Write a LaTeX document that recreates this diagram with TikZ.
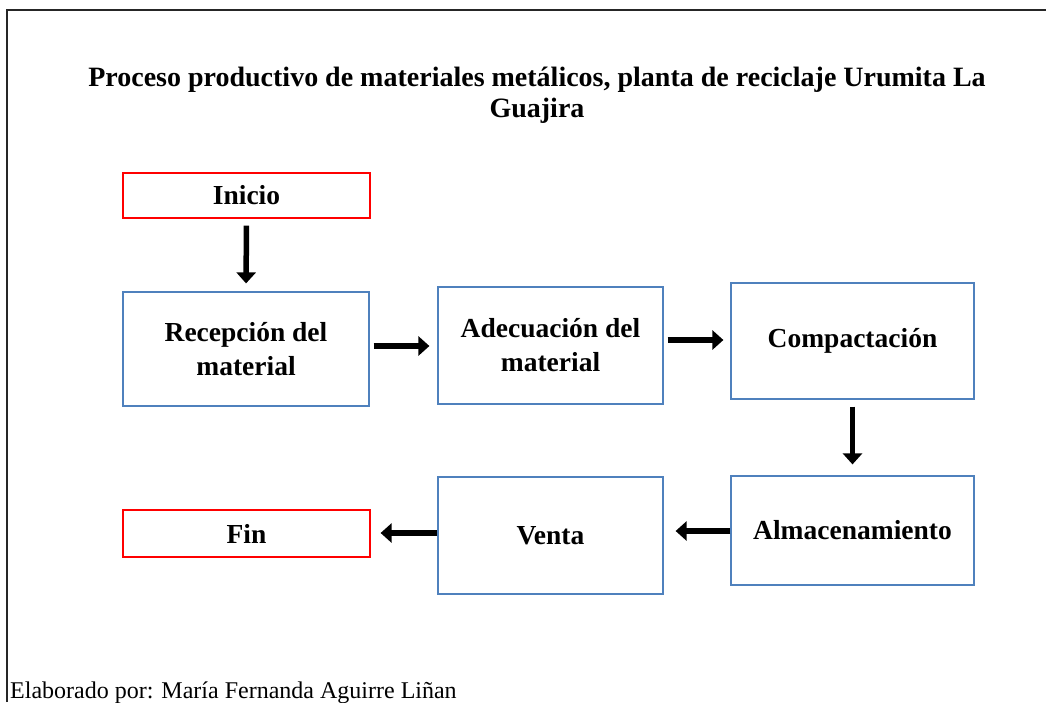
\documentclass[tikz,border=0pt]{standalone}
\usepackage{fontspec}
\setmainfont{Liberation Serif}
\usetikzlibrary{arrows.meta}
\definecolor{boxblue}{HTML}{4F81BD}
\tikzset{
  box/.style={draw=boxblue, line width=1.2pt, align=center, font=\bfseries\fontsize{27.5}{34}\selectfont, inner sep=0pt},
  redbox/.style={draw=red, line width=1.2pt, align=center, font=\bfseries\fontsize{27.5}{34}\selectfont, inner sep=0pt},
  arr/.style={line width=5.5pt, -{Triangle[length=11pt,width=19pt]}}
}
\begin{document}
\begin{tikzpicture}[x=1pt,y=-1pt]
\useasboundingbox (0,0) rectangle (1046,702);
\draw[line width=1.8pt, color=black!85] (7,702) -- (7,10) -- (1046,10);
\node[font=\bfseries\fontsize{28}{31}\selectfont, align=center, anchor=base] (title) at (537,117)
  {Proceso productivo de materiales metálicos, planta de reciclaje Urumita La\\Guajira};
\node[redbox, minimum width=247pt, minimum height=45pt] (ini) at (246.5,195.5) {Inicio};
\node[box, minimum width=246pt, minimum height=114pt] (rec) at (246,349) {Recepción del\\material};
\node[box, minimum width=225pt, minimum height=117pt] (ade) at (550.5,345.5) {Adecuación del\\material};
\node[box, minimum width=243pt, minimum height=116pt] (com) at (852.5,341) {Compactación};
\node[box, minimum width=243pt, minimum height=109pt] (alm) at (852.5,530.5) {Almacenamiento};
\node[box, minimum width=225pt, minimum height=117pt] (ven) at (550.5,535.5) {Venta};
\node[redbox, minimum width=247pt, minimum height=47pt] (fin) at (246.5,533.5) {Fin};
\node[font=\fontsize{24}{28}\selectfont, anchor=base west, inner sep=0pt] (foot) at (10,698) {Elaborado por: María Fernanda Aguirre Liñan};
\draw[arr, shorten <=7pt, shorten >=8pt] (ini.south) -- (rec.north);
\draw[arr, shorten <=4pt, shorten >=8pt] (rec.east |- 0,346) -- (ade.west |- 0,346);
\draw[arr, shorten <=4pt, shorten >=7pt] (ade.east |- 0,340) -- (com.west |- 0,340);
\draw[arr, shorten <=7pt, shorten >=11pt] (com.south) -- (alm.north);
\draw[arr, shorten >=12pt] (alm.west |- 0,531) -- (ven.east |- 0,531);
\draw[arr, shorten >=10pt] (ven.west |- 0,533) -- (fin.east |- 0,533);
\end{tikzpicture}
\end{document}
